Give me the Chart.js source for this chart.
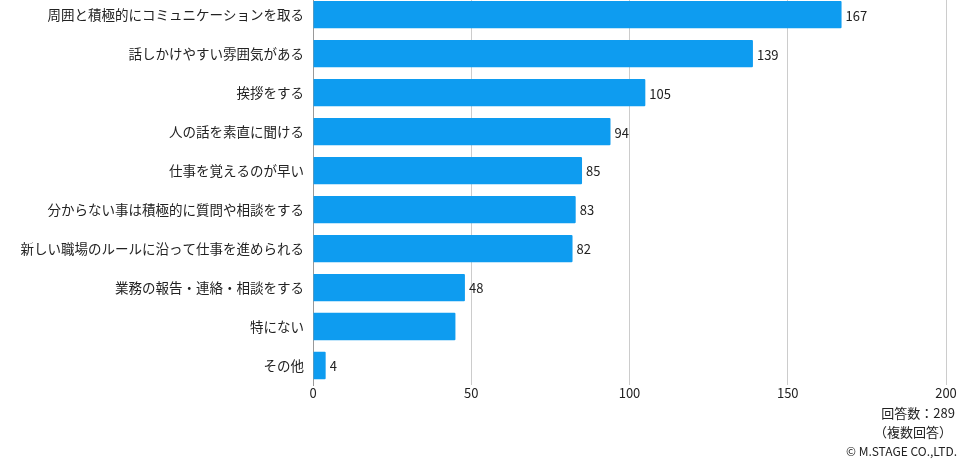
<!DOCTYPE html>
<html>
<head>
<meta charset="utf-8">
<script src="https://cdn.jsdelivr.net/npm/chart.js@4"></script>
<style>
  body { margin: 0; background: #fff; font-family: "Noto Sans CJK JP", sans-serif; }
  #wrap { position: absolute; left: 0; top: -22px; width: 976px; height: 436px; }
  .note { position: absolute; right: 21px; font-size: 13px; color: #222; text-align: right; white-space: nowrap; }
</style>
</head>
<body>
<div id="wrap"><canvas id="myChart"></canvas></div>
<div class="note" style="top:403px;">回答数：289</div>
<div class="note" style="top:422px; right:24px;">（複数回答）</div>
<div class="note" style="top:442px; right:19px; font-size:12px;">© M.STAGE CO.,LTD.</div>
<script>
  // setup
  const categories = [
    '周囲と積極的にコミュニケーションを取る',
    '話しかけやすい雰囲気がある',
    '挨拶をする',
    '人の話を素直に聞ける',
    '仕事を覚えるのが早い',
    '分からない事は積極的に質問や相談をする',
    '新しい職場のルールに沿って仕事を進められる',
    '業務の報告・連絡・相談をする',
    '特にない',
    'その他'
  ];
  const counts = [167, 139, 105, 94, 85, 83, 82, 48, 45, 4];
  const xTicks = [0, 50, 100, 150, 200];
  // the reference prints no number next to this bar
  const hiddenLabels = ['特にない'];

  const fontFamily = '"Noto Sans CJK JP", "Noto Sans", sans-serif';

  const valueLabels = {
    id: 'valueLabels',
    afterDatasetsDraw(chart) {
      const ctx = chart.ctx;
      const meta = chart.getDatasetMeta(0);
      ctx.save();
      ctx.font = '13px ' + fontFamily;
      ctx.fillStyle = '#222';
      ctx.textAlign = 'left';
      ctx.textBaseline = 'middle';
      meta.data.forEach((bar, i) => {
        if (hiddenLabels.includes(categories[i])) return;
        ctx.fillText(String(counts[i]), bar.x + 4, bar.y + 1);
      });
      ctx.restore();
    }
  };

  const data = {
    labels: categories,
    datasets: [{
      label: '回答数',
      data: counts,
      backgroundColor: '#0E9CF0',
      borderWidth: 0,
      borderRadius: 1,
      categoryPercentage: 0.7,
      barPercentage: 1
    }]
  };

  // config
  const config = {
    type: 'bar',
    data,
    options: {
      indexAxis: 'y',
      responsive: true,
      maintainAspectRatio: false,
      animation: false,
      layout: { padding: { left: 0, right: 30, top: 0, bottom: 0 } },
      plugins: {
        legend: { display: false },
        tooltip: { enabled: false }
      },
      scales: {
        x: {
          min: 0,
          max: 200,
          afterBuildTicks(scale) {
            scale.ticks = xTicks.map(v => ({ value: v }));
          },
          afterFit(scale) { scale.height = 29; },
          grid: { color: '#cccccc', drawTicks: false },
          border: { display: false },
          ticks: {
            padding: 0,
            color: '#222',
            font: { family: fontFamily, size: 13 }
          }
        },
        y: {
          afterFit(scale) { scale.width = 313; },
          grid: { display: false, drawTicks: false },
          border: { color: '#999999' },
          ticks: {
            padding: 9,
            color: '#222',
            font: { family: fontFamily, size: 13.5 }
          }
        }
      }
    },
    plugins: [valueLabels]
  };

  // render init block
  const myChart = new Chart(
    document.getElementById('myChart'),
    config
  );
</script>
</body>
</html>
